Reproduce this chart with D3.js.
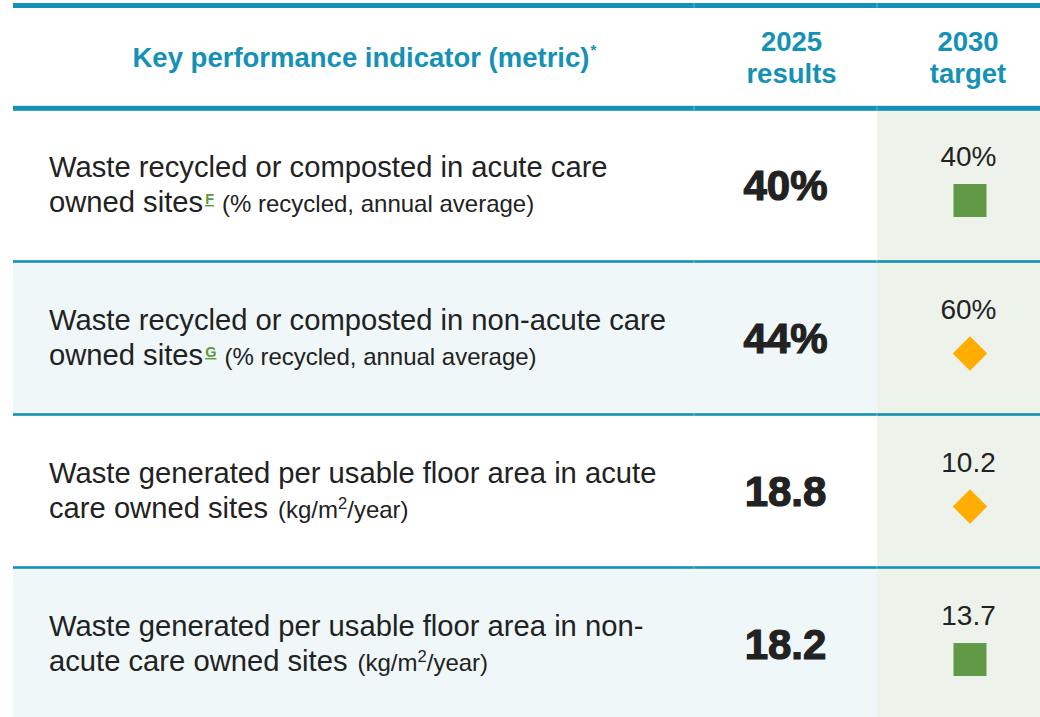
<!DOCTYPE html>
<html lang="en">
<head>
<meta charset="UTF-8">
<title>KPI table</title>
<script src="https://cdn.jsdelivr.net/npm/d3@7"></script>
<style>
  body { margin: 0; background: #fff; }
  svg { display: block; font-family: "Liberation Sans", Arial, Helvetica, sans-serif; }
</style>
</head>
<body>
<svg id="chart" width="1040" height="717"></svg>
<script>
  // table content
  var headers = ["Key performance indicator (metric)", ["2025", "results"], ["2030", "target"]];
  var labelLine1 = [
    "Waste recycled or composted in acute care",
    "Waste recycled or composted in non-acute care",
    "Waste generated per usable floor area in acute",
    "Waste generated per usable floor area in non-"
  ];
  var labelLine2 = ["owned sites", "owned sites", "care owned sites", "acute care owned sites"];
  var footnotes = ["F", "G", "", ""];
  var units = ["(% recycled, annual average)", "(% recycled, annual average)", "kg/m2/year", "kg/m2/year"];
  var results = ["40%", "44%", "18.8", "18.2"];
  var targets = ["40%", "60%", "10.2", "13.7"];
  var targetStatus = ["achieved", "progress", "progress", "achieved"];

  var teal = "#1591b6";
  var ink = "#222222";
  var statusColor = { achieved: "#629946", progress: "#ffad00" };

  var svg = d3.select("#chart");
  var width = 1040, left = 13;
  var colX = { split1: 694, split2: 877 };
  var resultX = (colX.split1 + colX.split2) / 2;
  var targetX = 970;

  var y = d3.scaleBand()
    .domain(d3.range(results.length))
    .range([108.5, 108.5 + 153 * results.length]);

  // target column background
  svg.append("rect")
    .attr("x", colX.split2).attr("y", 110)
    .attr("width", width - colX.split2).attr("height", 717 - 110)
    .attr("fill", "#edf3eb");

  // row stripes
  svg.selectAll("rect.row")
    .data(d3.range(results.length))
    .join("rect")
    .attr("class", "row")
    .attr("x", left)
    .attr("y", function(d) { return y(d); })
    .attr("width", colX.split2 - left)
    .attr("height", y.bandwidth())
    .attr("fill", function(d) { return d % 2 ? "#eff7f9" : "#ffffff"; });

  // rules
  svg.append("rect").attr("x", left).attr("y", 3).attr("width", width - left).attr("height", 5).attr("fill", teal);
  svg.append("rect").attr("x", left).attr("y", 105.8).attr("width", width - left).attr("height", 5).attr("fill", teal);
  svg.selectAll("rect.rule")
    .data(d3.range(1, results.length))
    .join("rect")
    .attr("class", "rule")
    .attr("x", left)
    .attr("y", function(d) { return y(d) - 1.3; })
    .attr("width", width - left)
    .attr("height", 2.6)
    .attr("fill", teal);

  // faint seams where the columns meet the rules
  [colX.split1, colX.split2].forEach(function(x) {
    [[3, 5], [105.8, 5]].concat(d3.range(1, results.length).map(function(d) { return [y(d) - 1.3, 2.6]; }))
      .forEach(function(r) {
        svg.append("rect").attr("x", x - 0.5).attr("y", r[0]).attr("width", 1).attr("height", r[1])
          .attr("fill", "#ffffff").attr("opacity", 0.35);
      });
  });

  // header
  var head = svg.append("text")
    .attr("x", 132.5).attr("y", 66.7)
    .attr("font-size", 27.5).attr("font-weight", "bold")
    .attr("fill", teal);
  head.append("tspan").text(headers[0]);
  head.append("tspan").attr("font-size", 15).attr("dy", -12).attr("dx", 1).text("*");

  [[791.5, headers[1]], [968, headers[2]]].forEach(function(h) {
    svg.append("text")
      .attr("x", h[0]).attr("text-anchor", "middle")
      .attr("font-size", 27.5).attr("font-weight", "bold").attr("fill", teal)
      .selectAll("tspan")
      .data(h[1])
      .join("tspan")
      .attr("x", h[0])
      .attr("y", function(d, i) { return 50.7 + i * 32; })
      .text(function(d) { return d; });
  });

  // rows
  var rows = svg.selectAll("g.kpi")
    .data(d3.range(results.length))
    .join("g")
    .attr("class", "kpi")
    .attr("transform", function(d) { return "translate(0," + y(d) + ")"; });

  rows.append("text")
    .attr("x", 49).attr("y", 68.5)
    .attr("font-size", 29.2).attr("fill", ink)
    .text(function(d) { return labelLine1[d]; });

  rows.each(function(d) {
    var t = d3.select(this).append("text")
      .attr("x", 49).attr("y", 103.5)
      .attr("font-size", 29.2).attr("fill", ink);
    t.append("tspan").text(labelLine2[d]);
    if (footnotes[d]) {
      t.append("tspan")
        .attr("font-size", 14.5).attr("font-weight", "bold")
        .attr("fill", "#5c9a3e").attr("dy", -8).attr("dx", 2)
        .attr("text-decoration", "underline")
        .text(footnotes[d]);
      t.append("tspan").attr("font-size", 24).attr("dy", 8).attr("dx", 8).text(units[d]);
    } else {
      var parts = units[d].split("2");
      t.append("tspan").attr("font-size", 24).attr("dx", 10).text("(" + parts[0]);
      t.append("tspan").attr("font-size", 16.5).attr("dy", -9).text("2");
      t.append("tspan").attr("font-size", 24).attr("dy", 9).text(parts[1] + ")");
    }
  });

  rows.append("text")
    .attr("x", resultX).attr("y", 91)
    .attr("text-anchor", "middle")
    .attr("font-size", 42).attr("font-weight", "bold")
    .attr("fill", ink).attr("stroke", ink).attr("stroke-width", 1.2)
    .text(function(d) { return results[d]; });

  rows.append("text")
    .attr("x", targetX - 1.5).attr("y", 57)
    .attr("text-anchor", "middle")
    .attr("font-size", 28).attr("fill", ink)
    .text(function(d) { return targets[d]; });

  rows.append("path")
    .attr("transform", "translate(" + targetX + ",92)")
    .attr("d", function(d) {
      return targetStatus[d] === "achieved"
        ? d3.symbol(d3.symbolSquare, 33 * 33)()
        : d3.symbol(d3.symbolDiamond2, 39 * 39 / 2)();
    })
    .attr("fill", function(d) { return statusColor[targetStatus[d]]; });
</script>
</body>
</html>
